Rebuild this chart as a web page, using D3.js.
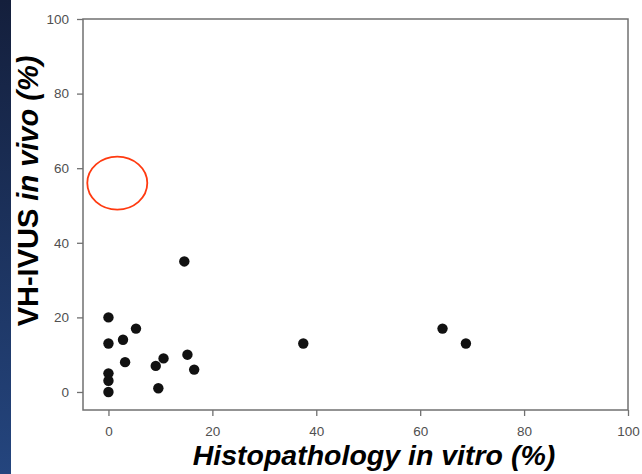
<!DOCTYPE html>
<html>
<head>
<meta charset="utf-8">
<script src="https://cdn.jsdelivr.net/npm/d3@7"></script>
<style>
  html, body { margin: 0; padding: 0; background: #ffffff; }
  svg { display: block; }
</style>
</head>
<body>
<svg id="chart" width="642" height="474"></svg>
<script>
// ---- data ----
const histoX = [0, 0, 0, 0, 0, 2.8, 3.2, 5.3, 9.1, 10.6, 9.6, 14.6, 15.2, 16.5, 37.5, 64.3, 68.8];
const vhY    = [20, 13, 5, 3, 0, 14, 8, 17, 7, 9, 1, 35, 10, 6, 13, 17, 13];
const xTicks = [0, 20, 40, 60, 80, 100];
const yTicks = [0, 20, 40, 60, 80, 100];
const xTitle = "Histopathology in vitro (%)";
const yTitleParts = [["VH-IVUS ", "normal"], ["in vivo (%)", "italic"]];
// highlighted (empty) region
const markCenter = [1.7, 56];

const svg = d3.select("#chart");
const W = 642, H = 474;

// left blue strip
const defs = svg.append("defs");
const grad = defs.append("linearGradient").attr("id", "strip")
  .attr("x1", 0).attr("y1", 0).attr("x2", 0).attr("y2", 1);
grad.append("stop").attr("offset", "0%").attr("stop-color", "#141f3c");
grad.append("stop").attr("offset", "100%").attr("stop-color", "#24457e");
svg.append("rect").attr("x", 0).attr("y", 0).attr("width", 11).attr("height", H)
  .attr("fill", "url(#strip)");

const box = { left: 83, right: 628, top: 19, bottom: 410 };
const x = d3.scaleLinear().domain([-4.9, 100]).range([box.left, box.right]);
const y = d3.scaleLinear().domain([-4.83, 100]).range([box.bottom, box.top]);

const axisColor = "#707070";
const labelColor = "#505050";
const tickFont = "13.5px";

// frame
svg.append("rect")
  .attr("x", box.left).attr("y", box.top)
  .attr("width", box.right - box.left).attr("height", box.bottom - box.top)
  .attr("fill", "#ffffff").attr("stroke", axisColor).attr("stroke-width", 1.5);

// y axis
const gy = svg.append("g").attr("transform", `translate(${box.left},0)`)
  .call(d3.axisLeft(y).tickValues(yTicks).tickSize(6).tickSizeOuter(0).tickPadding(8));
gy.select(".domain").remove();
gy.selectAll(".tick line").attr("stroke", axisColor).attr("stroke-width", 1.3);
gy.selectAll(".tick text").attr("fill", labelColor)
  .style("font-family", "Liberation Sans, Arial, sans-serif").style("font-size", tickFont);

// x axis
const gx = svg.append("g").attr("transform", `translate(0,${box.bottom})`)
  .call(d3.axisBottom(x).tickValues(xTicks).tickSize(6).tickSizeOuter(0).tickPadding(10));
gx.select(".domain").remove();
gx.selectAll(".tick line").attr("stroke", axisColor).attr("stroke-width", 1.3);
gx.selectAll(".tick text").attr("fill", labelColor)
  .style("font-family", "Liberation Sans, Arial, sans-serif").style("font-size", tickFont);

// red ellipse marker
svg.append("ellipse")
  .attr("cx", x(markCenter[0])).attr("cy", y(markCenter[1]))
  .attr("rx", 30).attr("ry", 26.5)
  .attr("fill", "none").attr("stroke", "#ff3a10").attr("stroke-width", 1.8);

// points
svg.append("g").selectAll("circle")
  .data(histoX.map((d, i) => [d, vhY[i]]))
  .join("circle")
  .attr("cx", d => x(d[0])).attr("cy", d => y(d[1]))
  .attr("r", 5.2)
  .attr("fill", "#111111");

// x title
svg.append("text")
  .attr("x", 374).attr("y", 465)
  .attr("text-anchor", "middle")
  .style("font-family", "Liberation Sans, Arial, sans-serif")
  .style("font-weight", "bold").style("font-style", "italic")
  .style("font-size", "28.5px").attr("fill", "#000")
  .text(xTitle);

// y title
const yt = svg.append("text")
  .attr("transform", "translate(38,191) rotate(-90)")
  .attr("text-anchor", "middle")
  .style("font-family", "Liberation Sans, Arial, sans-serif")
  .style("font-weight", "bold")
  .style("font-size", "29px").attr("fill", "#000");
yt.selectAll("tspan").data(yTitleParts).join("tspan")
  .style("font-style", d => d[1])
  .text(d => d[0]);
</script>
</body>
</html>
